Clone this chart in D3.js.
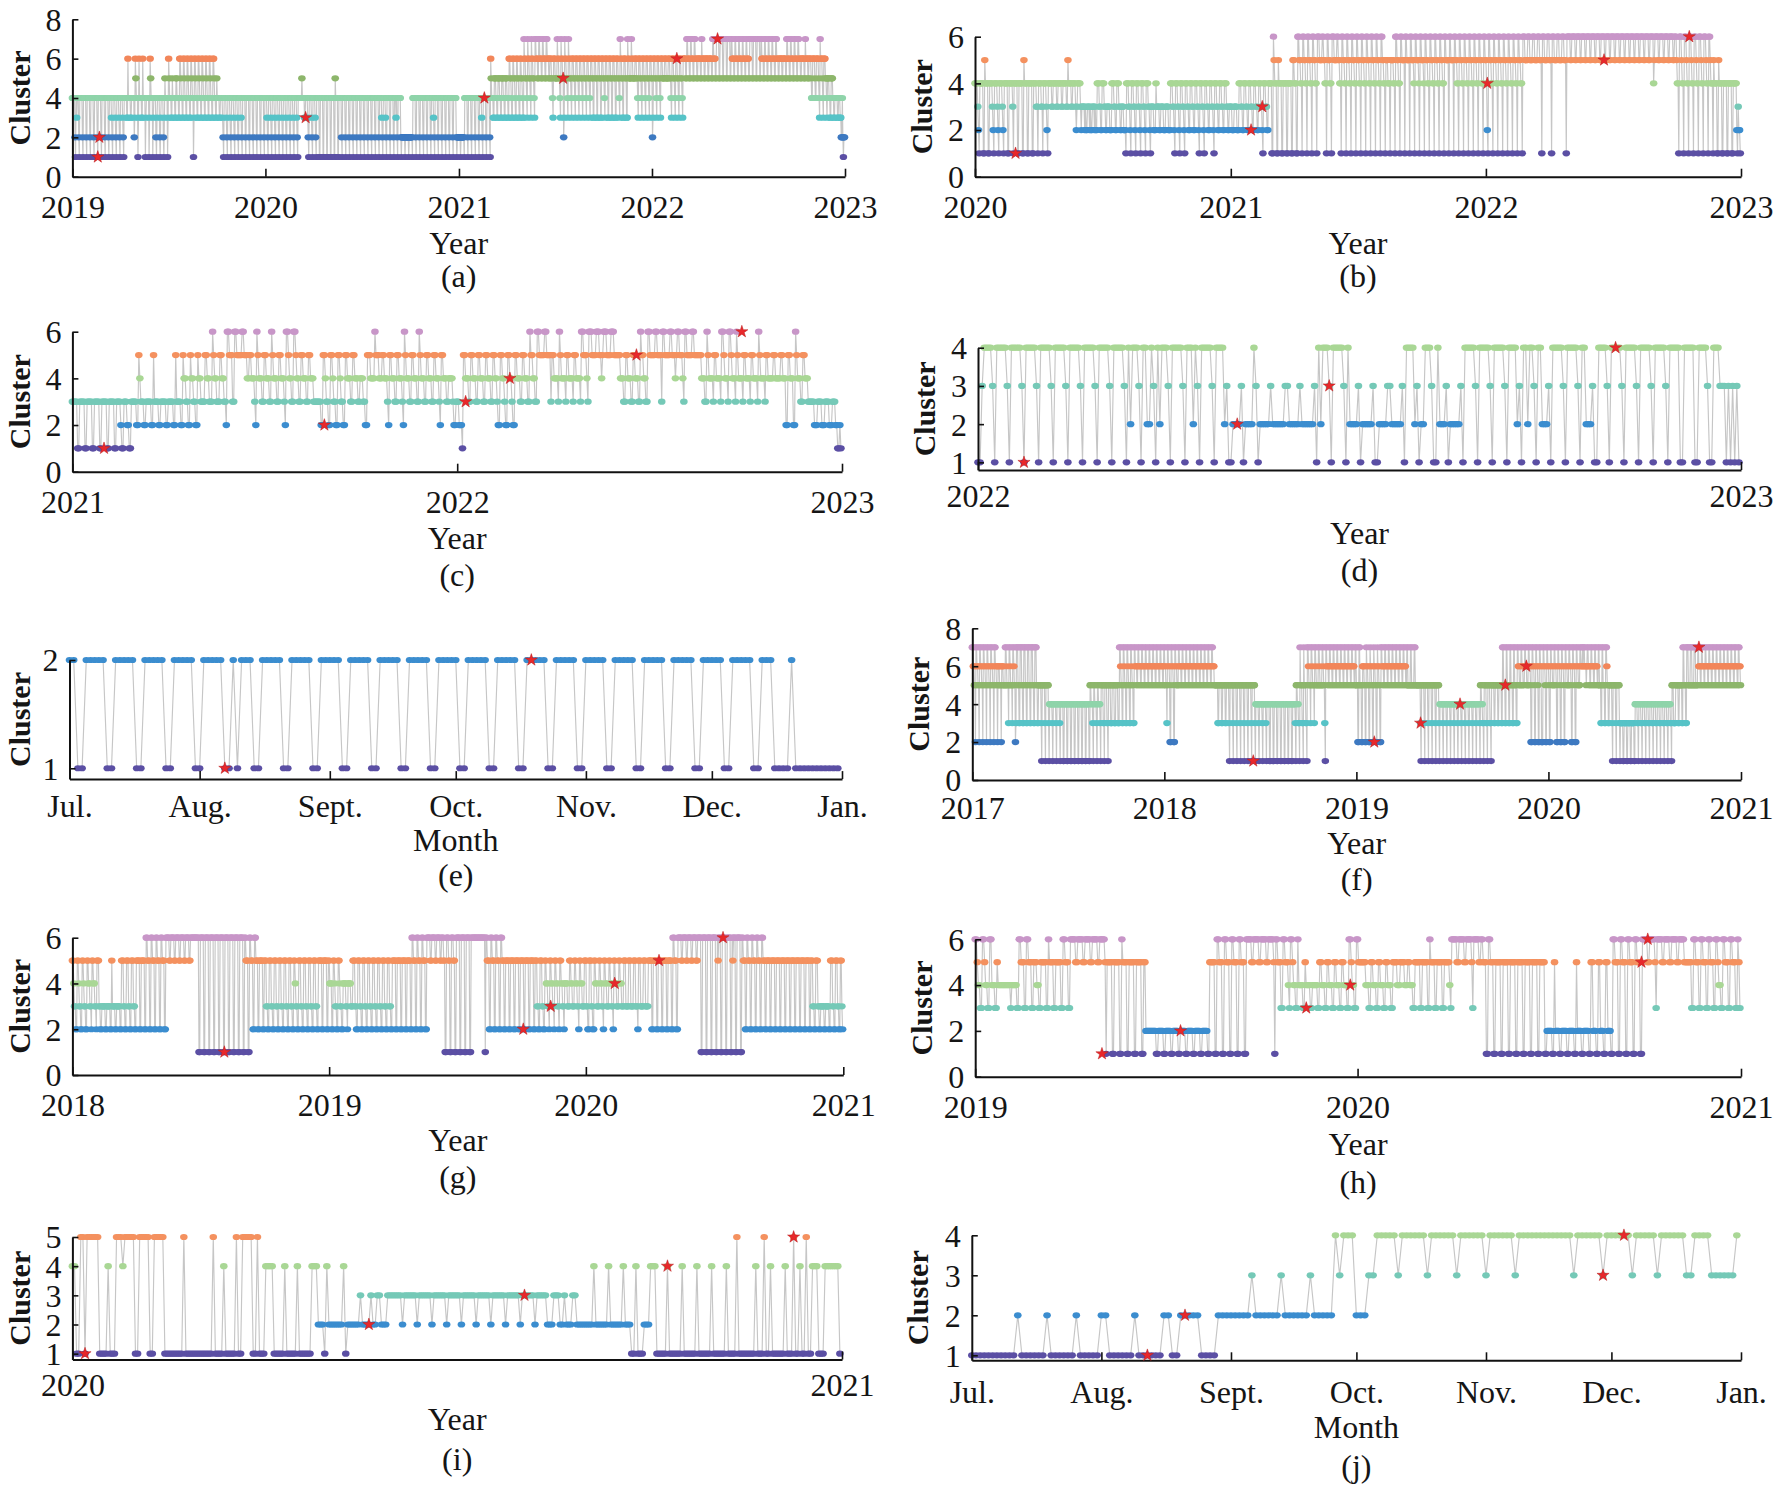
<!DOCTYPE html>
<html><head><meta charset="utf-8">
<script src="https://cdn.jsdelivr.net/npm/d3@7"></script>
<style>body{margin:0;background:#fff}svg{display:block}</style>
</head><body>
<svg id="c" width="1776" height="1487"></svg>
<script>
// ---------------- DATA (daily cluster labels) ----------------
const seriesA = [
"4444421 4344421 4444421 4444421 4444421 4444421 4444421 4444421",
"4444421 4444421 4444321 4444321 4444321 4444321 4444433 6444433",
"4444423 6544413 6444433 6444413 4444413 6544413 4444213 4444213",
"4444213 5444413 6544433 5444433 5544433 6654433 6654433 6654433",
"6654413 6654433 6654433 6654433 6654433 6654433 6654433 5444433",
"4444321 4444321 4444321 4444321 4444321 4444321 4444421 4444421",
"4444421 4444421 4444421 4444421 4444321 4444321 4444321 4444321",
"4444321 4444321 4444321 4444321 4444321 4444444 5444433 4444321",
"4444321 4444321 4444411 4444411 4444411 4444411 4444411 5444411",
"4444421 4444421 4444421 4444421 4444421 4444421 4444421 4444421",
"4444421 4444421 4444421 4444321 4444321 4444421 4444421 4443421",
"4444421 2222221 2222221 2222221 4444421 4444421 4444421 4444421",
"4444421 4444321 4444421 4444421 4444421 4444421 4444421 4444421",
"2222221 2222221 4444421 4444421 4444421 4444421 4444321 4444421",
"4444421 6544433 5554433 5554433 5554433 5554433 6655433 6655433",
"6655433 6655433 7665543 7665543 7665543 7766655 7766655 7766655",
"7766655 6665543 6665555 7665543 7665523 7665543 7665543 6665543",
"6665543 6665543 6665543 6665543 6665533 6665533 6665533 6665543",
"6665533 6665533 6665533 6665543 7665533 6665533 7665555 7665555",
"6665543 6665543 6665543 6665543 6665523 6665543 6665543 6665555",
"6665555 6665543 6665543 6665543 6665543 6666655 7766655 7766655",
"7766655 6666655 7666655 6666655 6666655 7766655 7777755 7777755",
"7777755 7777755 7766655 7766655 7766655 7766655 7766655 7777755",
"7777755 7777755 7766655 7766655 7766655 7766655 7766655 6666655",
"6666655 7766655 7766655 7766655 7766655 6666655 7666655 6666544",
"6666544 6666543 7666543 6665543 5554433 5554433 4444433 4443322",
"42122"].join(" ");

const seriesB = [
"4444321 4444411 5444411 4444321 4444321 4444321 4444411 4444431",
"4444411 4444411 5444411 4444411 4444331 4444331 4444321 4444433",
"4444433 4444433 4444433 5444433 4444323 4444323 3332322 3332322",
"3332322 4443322 4443322 3333222 4443322 4443322 3332221 4443321",
"4443321 4443321 4443321 4443321 3333222 4333322 3333222 3333222",
"4443321 4443321 4443321 4443322 4443322 4443321 4443321 4443322",
"4443321 4443322 4443322 4443322 3333222 3333222 4443322 4443322",
"4443322 4443322 4443321 4443322 4444411 6544411 5444411 4444411",
"4444411 5544411 6655441 6655441 6655441 6655441 6665555 6655441",
"6655441 6665555 6655441 6655441 6655441 6655441 6655441 6655441",
"6655441 6655441 6655441 6655441 5554441 5555441 6655441 6655551",
"6655551 6655541 6655541 6655541 6655441 6655441 6655441 6655441",
"6655551 6655551 6655441 6655441 6655441 6655441 6655441 6655441",
"6655421 6655441 6655441 6655441 6655441 6655441 6655441 6655441",
"6665555 6665555 6665555 6665551 6665555 6665551 6665555 6665555",
"6665551 6666655 6666655 6666655 6666655 6666655 6666655 6666655",
"6666655 6666655 6666655 6666655 6666655 6666655 6666655 6666655",
"6666655 6666655 6666645 6666655 6666655 6666655 6666655 6665441",
"6665441 6665441 6665441 6665441 6665441 6665441 6654441 5444411",
"5444411 4444411 4444411 4444421",
"3221"].join(" ");

const seriesC = [
"3333311 3333311 3333311 3333311 3333311 3333311 3333211 3332211",
"3333322 5433322 3333322 5333322 3333322 3333322 5333322 5443322",
"5443322 5443333 5544333 6544333 5544332 6655533 6655555 6655544",
"5544432 6544433 5544433 6544433 5544432 6654433 6654433 5544433",
"5544433 3333322 5543322 5543322 5543322 5544433 5544433 4443322",
"5554444 6555444 5544432 5544433 5544432 6544433 5544433 6544433",
"5544433 5544432 5544433 4444322 3332221 5544433 5544433 5544433",
"5544433 5544322 5544322 5544322 5544433 5544433 6554433 6655555",
"6655553 5544443 6544443 5544443 5544443 6655543 6665555 6665545",
"6665555 6665555 5544433 5544433 5544433 6554433 6655555 6655553",
"6655555 6655545 6655543 6655555 6655555 5544433 6544443 5544443",
"6654443 6654443 6544443 5544443 5544443 6544443 5544444 5544444",
"5544422 5544422 6544433 5544433 3333222 3333222 3333222 3332211",
"21"].join(" ");

const seriesD = [
"1134444 3144444 3144444 3144444 3144444 3144444 3144444 3144444",
"3144444 3144444 3142444 3144224 3142444 3144444 3144424 3144444",
"3144442 3112222 3122224 3122222 3222222 3322222 3222222 3142444",
"3144444 3142222 3122222 3112222 3322222 3144442 3122444 3114222",
"3122222 3144444 3144444 3144444 3144442 3144244 3144222 3144444",
"3144444 3144222 3114444 3144444 3144444 3144444 3144444 3144444",
"1144444 1144443 1144433 3131313",
"1"].join(" ");

const seriesE = [
"22112222211",
"2222211 2222211 2222211 2222211 2122211 2222211 2222211 2222211",
"2222211 2222211 2222211 2222211 2222211 2222211 2222211 2222211",
"2222211 2222211 2222211 2222211 2222211 2222211 2221111 2111111",
"11111"].join(" ");

const seriesF = [
"7766552 7766552 7766552 7766552 7766552 7766552 7766552 6665552",
"6665555 7765553 7765553 7765523 7775533 7775533 7775533 7775533",
"7775533 7775533 5555531 5555531 5555531 4444431 4444431 4444431",
"4444411 4444411 4444411 4444411 4444411 4444411 4444411 4444411",
"5544431 5544431 5544431 5555331 5555331 5555333 5555333 5555333",
"7765533 7765533 7765533 7765533 7766655 7766655 7766655 7766655",
"7766655 7766655 7766655 7766655 7766553 7766522 7766522 7766555",
"7766655 7766655 7766655 7766655 7766655 7766655 7766655 7766655",
"7766655 7766655 5555533 5555533 5555533 5555531 5555531 5555531",
"5555531 5555531 5555531 5555531 5555531 4444431 4444431 4444431",
"4444411 4444411 4444411 4444411 4444411 4444411 4444411 4444431",
"5544331 7555331 7555331 7765553 7765553 7765555 7765555 7765531",
"7766655 7766655 7766655 7766655 7766655 7766655 7766655 7766655",
"7755522 7755522 6665522 7665522 7665522 7665522 7665522 7766655",
"7766655 7766655 7766655 7766655 7766655 7766655 7755555 7755555",
"7755555 5555531 5555531 5555531 5555531 5555531 5555531 4444431",
"4444431 4444431 4444431 4444431 4444431 4444431 4444431 4444431",
"4444431 4444431 5544331 5555331 5555331 5555533 5555533 5555533",
"7755533 7755533 7755533 7755533 7766555 7766555 7766555 7766522",
"7766522 7766522 7766222 7766522 7766522 7766555 7766522 7766522",
"7766522 7766555 7766522 7766522 7766555 7766676 7766656 7766655",
"7766655 7766655 7755533 7755533 7765533 5555531 5555531 5555531",
"3333311 3333311 3333311 3333311 4444331 4444331 4444331 4444331",
"4444331 4444331 4444331 4444331 4444331 4444331 5553333 5555533",
"5555533 7755533 7775555 7775555 7775555 7766655 7766655 7766655",
"7766655 7766655 7766655 7766655 7766655 7766655 7766655 7766655",
"77665"].join(" ");

const seriesG = [
"5543322 5543322 5543322 5544332 5544332 5553322 3333322 3333322",
"5333322 3333322 5553322 5553322 5553322 5555522 5555522 6655522",
"6655522 6655522 6655522 6666655 6666655 6666655 6666655 6666655",
"6666666 6666611 6666611 6666611 6666611 6666611 6666611 6666611",
"6666611 6666611 6666611 6655511 6655522 6655522 5555522 5553322",
"5553322 5553322 5553322 5553322 5553322 5543322 5553322 5553322",
"5553322 5553322 5555522 5555522 5544422 5543322 5543322 4444332",
"4444333 5553322 5553322 5553322 5553322 5553322 5553322 5553322",
"5553322 5555522 5555522 5555522 5555522 6655522 6655522 6655522",
"6666655 6666655 6666655 6665511 6665511 6665511 6666611 6666611",
"6666611 6666666 6666666 6666661 6655522 6655522 6655522 6655522",
"5555522 5555522 5555522 5555522 5555522 5555522 5553322 5553322",
"5544332 5544332 5544332 5544332 4444333 5544333 5544332 5544333",
"5553322 5553322 5544333 5544332 5544333 5544332 5544333 5544333",
"5553333 5553333 5553332 5553333 5553333 5555522 5555522 5555522",
"5555522 5555522 6655522 6666655 6666655 6666655 6666655 6666611",
"6666611 6666611 6666611 6566611 6666611 6666611 6566611 6666611",
"6655522 6655522 6655522 6655522 6655522 5555522 5555522 5555522",
"5555522 5555522 5555522 5555522 5555522 5555522 5553322 5553322",
"3333322 3333322 5553322 5553322",
"5532"].join(" ");

const seriesH = [
"6654433 6654433 6644433 5444444 4444443 4444433 6655533 6655533",
"5554433 5555533 6555533 5555533 6655533 6666655 6666655 6666655",
"6666655 6666651 5555511 5555511 6555511 5555511 5555511 5522222",
"2222211 2222211 2222211 2222211 2222211 2222211 2222211 2222211",
"5555511 6655511 6655511 6655511 6655511 6666655 6666655 6666655",
"6666651 6655533 6655543 6654433 6444433 5444433 4444433 5544433",
"5544433 5544433 5544433 6654433 6655555 5544433 5544433 5544433",
"5544433 5555444 5555444 5544433 5555533 5555533 6555533 5555533",
"5555543 6666655 6666655 6666653 6666655 6655511 6655511 5555511",
"5555511 5555511 5555511 5555511 5555511 5555511 2222211 5222211",
"2222211 2222211 5222211 2222211 5522211 5522211 5522211 6655511",
"6655511 6655511 6655511 6666655 6666653 6666655 6666655 6666655",
"6666655 5555533 6655533 6655533 6655533 6654433 6655533 6655533",
"653"].join(" ");

const seriesI = [
"4411551 5555551 1114111 5554555 5511555 5511555 5511111 1111511",
"1111111 1111511 1141111 1511555 5511511 1444411 1114111 1141111",
"1144422 2142222 2224122 2222322 2232233 2223333 3332333 3332333",
"3332333 3332333 3332333 3332333 3332333 3332333 3332333 3332333",
"3322233 3223222 3322222 2224222 2224222 2224222 1141112 2244411",
"1114111 1114111 1114111 1114111 1114111 1511111 1114111 5114111",
"1114111 5114115 1144411 1444444",
"41"].join(" ");

const seriesJ = "11111111111 2 111111 2 111111 2 11111 22 111111 2 111111 22 11 22222 1111 22222222 3 222222 3 222222 3 22222 4 3 444 222 33 44444 3 444444 3 444444 3 444444 3 444444 3 4444444444444 3 444444 3 444444 3 44444 3 444444 33 4444 333333 4";

// representative days (red stars): [date, cluster]
const starsA = [["2019-02-18",1],["2019-02-21",2],["2020-03-17",3],["2021-02-18",4],["2021-07-17",5],["2022-02-17",6],["2022-05-05",7]];
const starsB = [["2020-02-28",1],["2021-01-30",2],["2021-02-15",3],["2022-01-03",4],["2022-06-19",5],["2022-10-19",6]];
const starsC = [["2021-01-31",1],["2021-08-28",2],["2022-01-09",3],["2022-02-20",4],["2022-06-20",5],["2022-09-28",6]];
const starsD = [["2022-01-23",1],["2022-05-05",2],["2022-06-18",3],["2022-11-02",4]];
const starsE = [["2021-08-07",1],["2021-10-19",2]];
const starsF = [["2018-06-19",1],["2019-02-04",2],["2019-05-03",3],["2019-07-17",4],["2019-10-11",5],["2019-11-20",6],["2020-10-13",7]];
const starsG = [["2018-08-05",1],["2019-10-04",2],["2019-11-12",3],["2020-02-11",4],["2020-04-14",5],["2020-07-14",6]];
const starsH = [["2019-05-02",1],["2019-07-16",2],["2019-11-13",3],["2019-12-25",4],["2020-09-28",5],["2020-10-04",6]];
const starsI = [["2020-01-07",1],["2020-05-21",2],["2020-08-03",3],["2020-10-10",4],["2020-12-09",5]];
const starsJ = [["2021-08-12",1],["2021-08-21",2],["2021-11-29",3],["2021-12-04",4]];

// tick labels
const yearsA = ["2019","2020","2021","2022","2023"];
const yearsB = ["2020","2021","2022","2023"];
const yearsC = ["2021","2022","2023"];
const yearsD = ["2022","2023"];
const yearsF = ["2017","2018","2019","2020","2021"];
const yearsG = ["2018","2019","2020","2021"];
const yearsH = ["2019","2020","2021"];
const yearsI = ["2020","2021"];
const monthLabels = ["Jul.","Aug.","Sept.","Oct.","Nov.","Dec.","Jan."];
const yTicks8 = [0,2,4,6,8];
const yTicks6 = [0,2,4,6];
const yTicks4 = [1,2,3,4];
const yTicks2 = [1,2];
const yTicks5 = [1,2,3,4,5];
const panelLabels = ["(a)","(b)","(c)","(d)","(e)","(f)","(g)","(h)","(i)","(j)"];

// colours per number of clusters
const palette7 = ["#5b4fa4","#3d79c1","#56c3c7","#8fd4aa","#8db66b","#f2865a","#c896c8"];
const palette6 = ["#5b4fa4","#3b8dcf","#75c9b7","#a9d795","#f4915f","#c896c8"];

// ---------------- LAYOUT ----------------
const panels = [
 {s:seriesA, st:starsA, start:"2019-01-01", end:"2023-01-01", xt:yearsA, yt:yTicks8, yd:[0,8],   pal:palette7, x0:72.4, x1:845,   yTop:19.3,  yBot:176.7, off:[41,77,110], xl:"Year"},
 {s:seriesB, st:starsB, start:"2020-01-01", end:"2023-01-01", xt:yearsB, yt:yTicks6, yd:[0,6],   pal:palette6, x0:975,  x1:1741,  yTop:36.7,  yBot:176.7, off:[41,77,110], xl:"Year"},
 {s:seriesC, st:starsC, start:"2021-01-01", end:"2023-01-01", xt:yearsC, yt:yTicks6, yd:[0,6],   pal:palette6, x0:72.4, x1:842,   yTop:331.7, yBot:471.7, off:[41,77,114], xl:"Year"},
 {s:seriesD, st:starsD, start:"2022-01-01", end:"2023-01-01", xt:yearsD, yt:yTicks4, yd:[0.8,4], pal:palette6, x0:978,  x1:1741,  yTop:347.7, yBot:470,   off:[37,74,111], xl:"Year"},
 {s:seriesE, st:starsE, start:"2021-07-01", end:"2022-01-01", xt:null,   yt:yTicks2, yd:[0.9,2], pal:palette6, x0:69.5, x1:842,   yTop:660,   yBot:779.1, off:[38,72,107], xl:"Month"},
 {s:seriesF, st:starsF, start:"2017-01-01", end:"2021-01-01", xt:yearsF, yt:yTicks8, yd:[0,8],   pal:palette7, x0:972.3,x1:1741,  yTop:628.3, yBot:780,   off:[39,74,110], xl:"Year"},
 {s:seriesG, st:starsG, start:"2018-01-01", end:"2021-01-01", xt:yearsG, yt:yTicks6, yd:[0,6],   pal:palette6, x0:72.4, x1:843.3, yTop:937.7, yBot:1075,  off:[41,76,113], xl:"Year"},
 {s:seriesH, st:starsH, start:"2019-01-01", end:"2021-01-01", xt:yearsH, yt:yTicks6, yd:[0,6],   pal:palette6, x0:975.2,x1:1741,  yTop:939.3, yBot:1076.7,off:[41,78,116], xl:"Year"},
 {s:seriesI, st:starsI, start:"2020-01-01", end:"2021-01-01", xt:yearsI, yt:yTicks5, yd:[0.8,5], pal:palette6, x0:72.4, x1:842,   yTop:1237,  yBot:1359.5,off:[36,70,110], xl:"Year"},
 {s:seriesJ, st:starsJ, start:"2021-07-01", end:"2022-01-01", xt:null,   yt:yTicks4, yd:[0.875,4],pal:palette6,x0:971.8,x1:1741,  yTop:1235.3, yBot:1360.3,off:[43,78,117], xl:"Month"}
];

const FONT = "'Liberation Serif','Times New Roman',Times,serif";
const parse = d3.timeParse("%Y-%m-%d");
const svg = d3.select("#c");
svg.append("rect").attr("width",1776).attr("height",1487).attr("fill","#fff");
const decode = s => s.replace(/\s+/g,"").split("").map(Number);
const star = d3.symbol().type(d3.symbolStar).size(46);

panels.forEach((p, pi) => {
  const vals = decode(p.s);
  const start = parse(p.start), end = parse(p.end);
  const x = d3.scaleTime().domain([start, end]).range([p.x0, p.x1]);
  const y = d3.scaleLinear().domain(p.yd).range([p.yBot, p.yTop]);
  const pts = vals.map((v, i) => ({t: d3.timeDay.offset(start, i), v}));
  const g = svg.append("g");

  g.append("path").datum(pts)
    .attr("d", d3.line().x(d => x(d.t)).y(d => y(d.v)))
    .attr("fill", "none").attr("stroke", "#c6c6c6").attr("stroke-width", 1.15);

  g.append("g").selectAll("ellipse").data(pts).join("ellipse")
    .attr("cx", d => x(d.t)).attr("cy", d => y(d.v)).attr("rx", 3.8).attr("ry", 3.1)
    .attr("fill", d => p.pal[d.v - 1]);

  // axes
  let tickDates, tickLabels;
  if (p.xt) { tickDates = p.xt.map(l => new Date(+l, 0, 1)); tickLabels = p.xt; }
  else { tickDates = d3.timeMonth.range(start, d3.timeDay.offset(end, 1)); tickLabels = monthLabels; }

  const gx = g.append("g").attr("transform", `translate(0,${p.yBot})`)
    .call(d3.axisBottom(x).tickValues(tickDates).tickFormat((d, i) => tickLabels[i]).tickSizeInner(-8).tickSizeOuter(0));
  gx.attr("font-family", FONT).attr("font-size", 32);
  gx.select(".domain").attr("stroke", "#111").attr("stroke-width", 2);
  gx.selectAll(".tick line").attr("stroke", "#111").attr("stroke-width", 1.6);
  gx.selectAll(".tick text").attr("dy", null).attr("y", p.off[0]).attr("fill", "#151515");

  const gy = g.append("g").attr("transform", `translate(${p.x0},0)`)
    .call(d3.axisLeft(y).tickValues(p.yt).tickFormat(d3.format("d")).tickSizeInner(-6).tickSizeOuter(0).tickPadding(11));
  gy.attr("font-family", FONT).attr("font-size", 32);
  gy.select(".domain").attr("stroke", "#111").attr("stroke-width", 2);
  gy.selectAll(".tick line").attr("stroke", "#111").attr("stroke-width", 1.6);
  gy.selectAll(".tick text").attr("dy", "0.34em").attr("fill", "#151515");

  // stars
  g.append("g").selectAll("path").data(p.st).join("path")
    .attr("transform", d => `translate(${x(parse(d[0]))},${y(d[1])})`)
    .attr("d", star).attr("fill", "#e8282b").attr("stroke", "#b81c1c").attr("stroke-width", 0.5);

  // labels
  const cx = (p.x0 + p.x1) / 2;
  g.append("text").attr("x", cx).attr("y", p.yBot + p.off[1]).attr("text-anchor", "middle")
    .attr("font-family", FONT).attr("font-size", 32).attr("fill", "#151515").text(p.xl);
  g.append("text").attr("x", cx).attr("y", p.yBot + p.off[2]).attr("text-anchor", "middle")
    .attr("font-family", FONT).attr("font-size", 32).attr("fill", "#151515").text(panelLabels[pi]);
  const ly = (p.yTop + p.yBot) / 2, lx = Math.max(p.x0 - 54, 19);
  g.append("text").attr("transform", `translate(${lx},${ly}) rotate(-90)`).attr("dy", "0.35em")
    .attr("text-anchor", "middle").attr("font-family", FONT).attr("font-weight", "bold")
    .attr("font-size", 30).attr("fill", "#151515").text("Cluster");
});
</script>
</body></html>
